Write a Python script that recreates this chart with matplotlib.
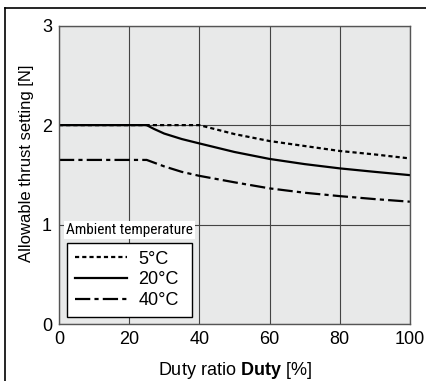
import matplotlib.pyplot as plt
from matplotlib.lines import Line2D

plt.rcParams['font.family'] = ['Liberation Sans', 'DejaVu Sans']
plt.rcParams['mathtext.fontset'] = 'custom'
plt.rcParams['mathtext.rm'] = 'Liberation Sans'
plt.rcParams['mathtext.bf'] = 'Liberation Sans:bold'
plt.rcParams['lines.scale_dashes'] = False

duty_5 = [0, 40, 45, 50, 60, 70, 80, 90, 100]
thrust_5 = [2.0, 2.0, 1.955, 1.91, 1.84, 1.79, 1.74, 1.705, 1.665]
duty_20 = [0, 25, 27, 30, 35, 40, 50, 60, 70, 80, 90, 100]
thrust_20 = [2.0, 2.0, 1.963, 1.915, 1.86, 1.816, 1.73, 1.66, 1.608, 1.565, 1.53, 1.497]
duty_40 = [0, 25, 30, 35, 40, 50, 60, 70, 80, 90, 100]
thrust_40 = [1.65, 1.65, 1.585, 1.53, 1.49, 1.425, 1.364, 1.32, 1.286, 1.256, 1.23]
labels = ['5°C', '20°C', '40°C']

fig = plt.figure(figsize=(4.27, 3.81), dpi=100)
ax = fig.add_axes([0.138, 0.1496, 0.822, 0.783])
ax.set_facecolor('#e8e9e9')

ax.plot(duty_5, thrust_5, color='black', lw=1.6, ls=(0, (3, 2.2)), label=labels[0])
ax.plot(duty_20, thrust_20, color='black', lw=1.6, ls='-', label=labels[1])
ax.plot(duty_40, thrust_40, color='black', lw=1.6, ls=(0, (11, 3, 3, 3)), label=labels[2])

ax.set_xlim(0, 100)
ax.set_ylim(0, 3)
ax.set_xticks([0, 20, 40, 60, 80, 100])
ax.set_yticks([0, 1, 2, 3])
ax.tick_params(length=0, labelsize=13, pad=5)
ax.grid(True, color='#444444', lw=0.8)
ax.set_axisbelow(True)
for s in ax.spines.values():
    s.set_color('#555555')
    s.set_linewidth(1.0)

ax.set_xlabel('Duty ratio $\\mathbf{Duty}$ [%]', fontsize=13, labelpad=9)
ax.set_ylabel('Allowable thrust setting [N]', fontsize=12)
ax.yaxis.set_label_coords(-0.072, 0.54)

leg = ax.legend(loc='lower left', bbox_to_anchor=(0.023, 0.0235, 0.356, 0.253),
                mode='expand', fancybox=False, edgecolor='black', framealpha=1,
                fontsize=13, handlelength=2.9, labelspacing=0.2, borderaxespad=0,
                handletextpad=0.6, borderpad=0.45)
leg.get_frame().set_linewidth(1.0)
ax.text(0.2, 0.315, 'Ambient temperature', transform=ax.transAxes, ha='center', va='center',
        fontsize=11, family=['Roboto Condensed', 'DejaVu Sans'],
        bbox=dict(facecolor='white', edgecolor='none', pad=1.5))

fig.add_artist(Line2D([0.012, 0.012], [0, 0.979], color='black', lw=1.2))
fig.add_artist(Line2D([0.012, 1.0], [0.979, 0.979], color='black', lw=1.2))

fig.savefig('out.png', dpi=100)
